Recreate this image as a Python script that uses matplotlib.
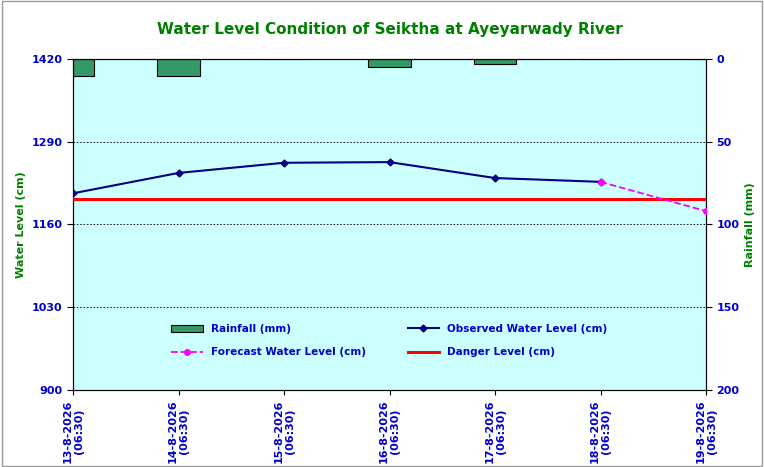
import matplotlib.pyplot as plt
import numpy as np

dates = ["13-8-2026\n(06:30)", "14-8-2026\n(06:30)", "15-8-2026\n(06:30)", "16-8-2026\n(06:30)",
         "17-8-2026\n(06:30)", "18-8-2026\n(06:30)", "19-8-2026\n(06:30)"]
observed = [1209, 1241, 1257, 1258, 1233, 1227]
forecast = [1227, 1181]
rainfall = [10, 10, 0, 5, 3, 0, 0]
danger = 1200

blue = '#0000CC'
green = '#008000'

fig = plt.figure(figsize=(7.64, 4.67), dpi=100)
ax = fig.add_axes([73/764, 1-390/467, 633/764, 331/467])
x = np.arange(len(dates))

ax2 = ax.twinx()
ax2.bar(x, rainfall, width=0.4, color='#339966', edgecolor='black', linewidth=0.8, label='Rainfall (mm)')
ax2.set_ylim(200, 0)
ax2.set_yticks([0, 50, 100, 150, 200])
ax2.set_ylabel('Rainfall (mm)', color=green, fontsize=8, fontweight='bold')

ax.set_zorder(ax2.get_zorder() + 1)
ax.patch.set_visible(False)
ax2.patch.set_visible(True)
ax2.patch.set_facecolor('#CCFFFF')

for y in [1290, 1160, 1030, 1420]:
    ax.axhline(y, color='black', linestyle=(0, (2, 2)), linewidth=0.6, zorder=1)

ax.plot(x[:6], observed, color='#000080', marker='D', markersize=3.5, linewidth=1.5, label='Observed Water Level (cm)', zorder=4)
ax.plot(x[5:], forecast, color='#FF00FF', marker='o', markersize=4, linestyle='--', linewidth=1.3, label='Forecast Water Level (cm)', zorder=5)
ax.axhline(danger, color='#FF0000', linewidth=2.2, label='Danger Level (cm)', zorder=3)

ax.set_xlim(0, 6)
ax.set_ylim(900, 1420)
ax.set_yticks([900, 1030, 1160, 1290, 1420])
ax.set_xticks(x)
ax.set_xticklabels(dates, rotation=90, fontsize=8, fontweight='bold', color=blue)
ax.set_ylabel('Water Level (cm)', color=green, fontsize=8, fontweight='bold')
for a in (ax, ax2):
    for lab in a.get_yticklabels():
        lab.set_color(blue); lab.set_fontweight('bold'); lab.set_fontsize(8)
    a.tick_params(axis='y', length=4)

ax.set_title('Water Level Condition of Seiktha at Ayeyarwady River', color=green,
             fontsize=11, fontweight='bold', pad=18)

h1, l1 = ax2.get_legend_handles_labels()
h2, l2 = ax.get_legend_handles_labels()
# column-wise fill: col1 = Rainfall, Forecast; col2 = Observed, Danger
hs = [h1[0], h2[1], h2[0], h2[2]]
ls = [l1[0], l2[1], l2[0], l2[2]]
leg = ax.legend(hs, ls, ncol=2, loc='lower center', bbox_to_anchor=(0.5, 0.07), frameon=False,
                fontsize=7.5, columnspacing=4, handlelength=3, labelspacing=1.3)
for t in leg.get_texts():
    t.set_color(blue); t.set_fontweight('bold')

fig.patches.append(plt.Rectangle((0.002, 0.002), 0.996, 0.996, transform=fig.transFigure,
                                 fill=False, edgecolor='#999999', linewidth=1))
fig.savefig('out.png', dpi=100)
